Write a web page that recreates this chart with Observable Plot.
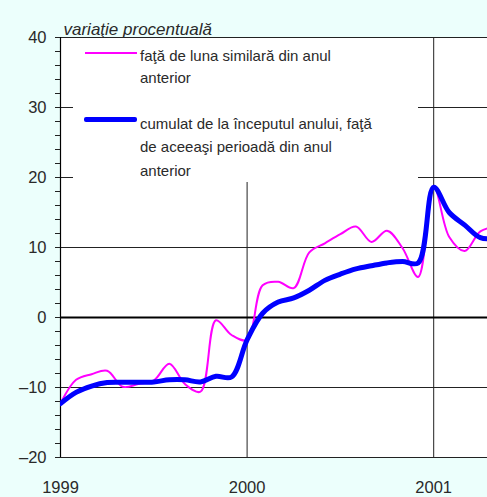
<!DOCTYPE html>
<html><head><meta charset="utf-8">
<script src="https://cdn.jsdelivr.net/npm/d3@7"></script>
<script src="https://cdn.jsdelivr.net/npm/@observablehq/plot@0.6"></script>
<style>
body{margin:0;background:#ecfffc;}
#wrap{position:relative;width:487px;height:497px;font-family:"Liberation Sans",Arial,sans-serif;}
#legend{position:absolute;left:73px;top:38px;width:345px;height:144px;background:#fff;color:#2a2a2a;font-size:15px;}
#legend .t{position:absolute;left:67px;white-space:nowrap;}
#legend .s{position:absolute;}
</style>
</head><body>
<div id="wrap"></div>
<script>
// month index 0 = January 1999
const months = d3.range(0, 29);
const monthly = [-12.3, -8.9, -8.1, -7.6, -9.9, -9.5, -9.0, -6.6, -9.5, -10.6, -0.4, -2.5,
                 -3.2, 4.6, 5.1, 4.2, 9.3, 10.6, 11.9, 13.0, 10.8, 12.4, 9.9, 5.8,
                 18.8, 11.5, 9.5, 12.3, 13.0];
const cumulative = [-12.3, -10.7, -9.8, -9.3, -9.25, -9.25, -9.2, -8.9, -8.9, -9.2, -8.4, -8.5,
                    -3.2, 0.6, 2.2, 2.8, 3.9, 5.3, 6.2, 6.95, 7.4, 7.8, 8.0, 7.8,
                    18.6, 15.0, 13.2, 11.4, 11.3];
const xTicks = [0, 12, 24];
const xTickLabels = ["1999", "2000", "2001"];
const yTicks = [-20, -10, 0, 10, 20, 30, 40];
const yTickLabels = ["–20", "–10", "0", "10", "20", "30", "40"];
const yMinorTicks = d3.range(-20, 41, 2);
const yLabel = "variaţie procentuală";
const legendLabels = ["faţă de luna similară din anul<br>anterior",
                      "cumulat de la începutul anului, faţă<br>de aceeaşi perioadă din anul<br>anterior"];

const dataM = months.map((m, i) => ({m, v: monthly[i]}));
const dataC = months.map((m, i) => ({m, v: cumulative[i]}));

const chart = Plot.plot({
  width: 487, height: 497,
  marginLeft: 60, marginRight: 0, marginTop: 37, marginBottom: 40,
  style: {background: "transparent", fontFamily: "Liberation Sans, Arial, sans-serif", fontSize: "16.5px", color: "#2a2a2a"},
  x: {domain: [0, 27.46]},
  y: {domain: [-20, 40]},
  marks: [
    Plot.frame({fill: "white", stroke: null}),
    Plot.ruleY(yTicks.filter(d => d !== 0), {stroke: "#222", strokeWidth: 1}),
    Plot.ruleX(xTicks.slice(1), {stroke: "#222", strokeWidth: 1}),
    Plot.ruleX([0], {stroke: "#000", strokeWidth: 1.2}),
    Plot.ruleY([0], {stroke: "#000", strokeWidth: 2.2}),
    Plot.line(dataM, {x: "m", y: "v", stroke: "#ff00ff", strokeWidth: 2, curve: "catmull-rom", clip: true}),
    Plot.line(dataC, {x: "m", y: "v", stroke: "#0000ff", strokeWidth: 5, curve: "catmull-rom", clip: true}),
    Plot.axisY({ticks: yMinorTicks, tickSize: 5, tickFormat: () => "", label: null, stroke: "#222"}),
    Plot.axisY({ticks: yTicks, tickSize: 5, tickPadding: 9, tickFormat: d => yTickLabels[yTicks.indexOf(d)], label: null, fontSize: 16.5, stroke: "#222"}),
    Plot.axisX({ticks: xTicks, tickSize: 0, tickPadding: 24, tickFormat: d => xTickLabels[xTicks.indexOf(d)], label: null, fontSize: 16.5}),
    Plot.text([yLabel], {frameAnchor: "top-left", dx: 3, dy: -15, textAnchor: "start", fontStyle: "italic", fontSize: 17, fill: "#2a2a2a"})
  ]
});
const wrap = document.getElementById("wrap");
wrap.appendChild(chart);

const legend = document.createElement("div");
legend.id = "legend";
legend.innerHTML =
  `<div class="s" style="left:12px;top:13.7px;width:52px;height:2px;background:#ff00ff"></div>
   <div class="t" style="top:7px;line-height:22px">${legendLabels[0]}</div>
   <div class="s" style="left:11px;top:78.5px;width:53px;height:5px;background:#0000ff;border-radius:2px"></div>
   <div class="t" style="top:73.5px;line-height:23.5px">${legendLabels[1]}</div>`;
wrap.appendChild(legend);
</script>
</body></html>
